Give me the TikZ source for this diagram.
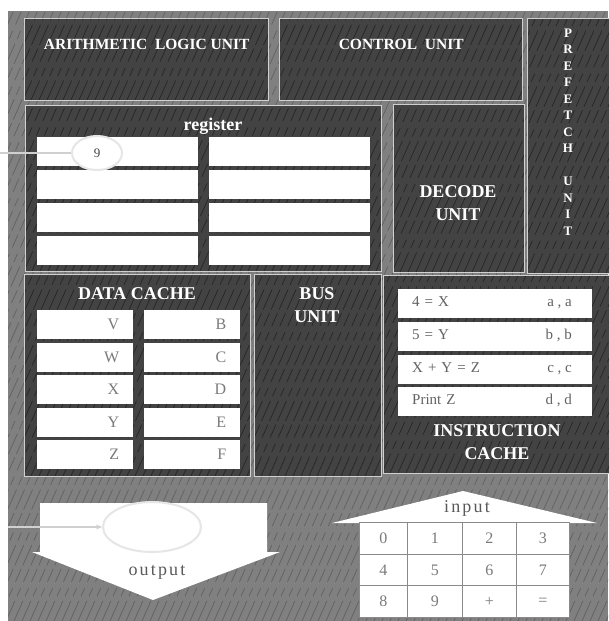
\documentclass[tikz,border=0pt]{standalone}
\usepackage{fontspec}
\setmainfont{Liberation Serif}
\usetikzlibrary{arrows.meta, positioning, shapes.geometric}
\definecolor{cboard}{HTML}{808080}
\definecolor{cpanel}{HTML}{434343}
\definecolor{cedge}{HTML}{D0D0D0}
\definecolor{cfaint}{HTML}{E6E6E6}
\definecolor{cink}{HTML}{7A7A7A}
\definecolor{cgrid}{HTML}{8A8A8A}
\tikzset{
  scratch/.style={path picture={
    \foreach \t in {-330,-322,...,620}
      \draw[#1, line width=0.7pt, dash pattern=on 22pt off 5pt on 9pt off 7pt on 14pt off 4pt]
        ([xshift=\t pt]path picture bounding box.south west) -- ++(66:720pt);}},
  panel/.style 2 args={fill=cpanel, scratch=black!85, draw=cedge, line width=1.4pt,
    anchor=north west, inner sep=0pt, minimum width=#1, minimum height=#2},
  head/.style={text=white, font=\bfseries\fontsize{18}{23}\selectfont, align=center},
  headsm/.style={head, font=\bfseries\fontsize{15.5}{18}\selectfont},
  prefl/.style={head, font=\bfseries\fontsize{13}{16.5}\selectfont},
  cell/.style={fill=white, anchor=north west, inner sep=0pt, minimum width=#1, minimum height=29pt},
  dcell/.style={cell=96pt, text width=68pt, inner xsep=14pt, align=right, text=cink,
    font=\fontsize{16}{18}\selectfont},
  icell/.style={cell=194pt, text width=166pt, inner xsep=14pt, align=left, text=cink!80!black,
    font=\fontsize{15}{17}\selectfont, text height=1.6ex, text depth=.3ex},
  ink/.style={text=cink!80!black, font=\fontsize{15}{17}\selectfont, text height=1.6ex, text depth=.3ex},
  key/.style={draw=cgrid, line width=0.8pt, fill=white, anchor=north west, inner sep=0pt,
    minimum height=31.7pt, text=cink, font=\fontsize{16}{18}\selectfont},
  slot/.style={ellipse, draw=cfaint, line width=2pt, fill=white, inner sep=0pt},
  feed/.style={draw=cedge, line width=2.5pt},
  arrowtxt/.style={text=black!65, font=\fontsize{18}{20}\selectfont\addfontfeature{LetterSpace=12}},
}

\begin{document}
\begin{tikzpicture}[x=1pt, y=-1pt]
  \useasboundingbox (0,0) rectangle (608,621);
  % board
  \path[fill=cboard, scratch=black!62] (8,11) rectangle (608,621);
  % top row
  \node[panel={244pt}{82pt}] (alu) at (24,18) {};
  \node[headsm] (alutxt) at ([yshift=-26pt]alu.north) {ARITHMETIC\ \ LOGIC UNIT};
  \node[panel={243pt}{82pt}] (ctrl) at (279,18) {};
  \node[headsm] (ctrltxt) at ([yshift=-26pt]ctrl.north) {CONTROL\ \ UNIT};
  \node[panel={85pt}{255pt}] (pref) at (527,18) {};
  \node[prefl] (preftxt) at (568,132) {P\\R\\E\\F\\E\\T\\C\\H\\[16.5pt]U\\N\\I\\T};
  % register
  \node[panel={356pt}{166pt}] (reg) at (25,105) {};
  \node[head] (regtxt) at (213,126) {register};
  \foreach \r in {0,...,3} {
    \node[cell=161pt] (regl\r) at (37,137+33*\r) {};
    \node[cell=161pt] (regr\r) at (209,137+33*\r) {};
  }
  \node[slot, minimum width=50pt, minimum height=34pt, font=\fontsize{13}{15}\selectfont, text=black!75] (nine) at (97,153) {9};
  \coordinate (regfeed) at (0,153);
  \draw[feed] (regfeed) -- (nine);
  % decode
  \node[panel={131pt}{168pt}] (dec) at (393,104) {};
  \node[head] (dectxt) at (458,203) {DECODE\\UNIT};
  % data cache
  \node[panel={226pt}{202pt}] (dcache) at (24,274) {};
  \node[head] (dcachetxt) at (137,294) {DATA CACHE};
  \foreach \a/\b [count=\i from 0] in {V/B, W/C, X/D, Y/E, Z/F} {
    \node[dcell] (dl\i) at (37,310+32.5*\i) {\a};
    \node[dcell] (dr\i) at (144,310+32.5*\i) {\b};
  }
  % bus
  \node[panel={127pt}{202pt}] (bus) at (254,274) {};
  \node[head] (bustxt) at (317,305) {BUS\\UNIT};
  % instruction cache
  \node[panel={229pt}{198pt}] (icache) at (383,275) {};
  \foreach \op/\ad [count=\i from 0] in {{4 = X}/{a , a}, {5 = Y}/{b , b}, {X + Y = Z}/{c , c}, {Print Z}/{d , d}} {
    \node[icell] (il\i) at (398,289+32.7*\i) {\op};
    \node[ink, anchor=east] (ir\i) at ([xshift=-17pt]il\i.east) {\ad};
  }
  \node[head] (icachetxt) at (497,442) {INSTRUCTION\\CACHE};
  % output
  \path[fill=white] (40,503) -- (267,503) -- (267,552) -- (280,552) -- (153,600) -- (32,552) -- (40,552) -- cycle;
  \node[slot, fill=none, minimum width=98pt, minimum height=50pt] (outslot) at (152,527) {};
  \coordinate (outfeed) at (8,527);
  \draw[feed, line width=2pt, -{Stealth[length=6pt, width=5pt]}] (outfeed) -- (outslot);
  \node[arrowtxt] (outtxt) at (157,572) {output};
  % input
  \path[fill=white] (332,523) -- (463,491) -- (597,523) -- cycle;
  \node[arrowtxt] (intxt) at (467,508) {input};
  \foreach \k [count=\i from 0] in {0,1,2,3,4,5,6,7,8,9,+,=} {
    \pgfmathtruncatemacro\row{int(\i/4)}
    \pgfmathtruncatemacro\col{mod(\i,4)}
    \pgfmathsetmacro\xa{{359,407,462,516,569}[\col]}
    \pgfmathsetmacro\xb{{359,407,462,516,569}[\col+1]}
    \node[key, minimum width={\xb-\xa}] (key\i) at (\xa,522+31.7*\row) {\k};
  }
\end{tikzpicture}
\end{document}
